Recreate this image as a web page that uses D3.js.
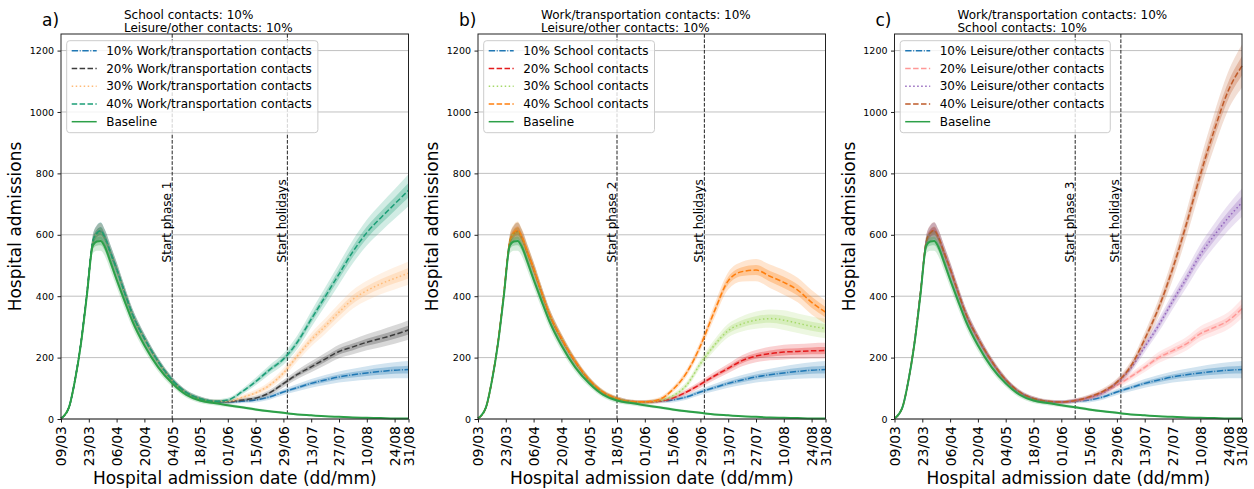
<!DOCTYPE html>
<html>
<head>
<meta charset="utf-8">
<script src="https://cdn.jsdelivr.net/npm/d3@7"></script>
<style>
  body { margin: 0; background: #fff; }
  text { font-family: "DejaVu Sans", sans-serif; fill: #000; }
</style>
</head>
<body>
<svg id="drawing_region"></svg>
<script>
// sample dates (day 0 = 09/03)
const dates = ["2020-03-09","2020-03-13","2020-03-16","2020-03-19","2020-03-22","2020-03-25","2020-03-27","2020-03-29","2020-03-31","2020-04-03","2020-04-06","2020-04-10","2020-04-14","2020-04-20","2020-04-27","2020-05-04","2020-05-11","2020-05-18","2020-05-25","2020-06-01","2020-06-08","2020-06-15","2020-06-22","2020-06-29","2020-07-06","2020-07-13","2020-07-20","2020-07-27","2020-08-03","2020-08-10","2020-08-17","2020-08-24","2020-08-31"];
const tickDates = ["2020-03-09","2020-03-23","2020-04-06","2020-04-20","2020-05-04","2020-05-18","2020-06-01","2020-06-15","2020-06-29","2020-07-13","2020-07-27","2020-08-10","2020-08-24","2020-08-31"];
const yTicks = [0, 200, 400, 600, 800, 1000, 1200];
const yMax = 1254;

// median hospital admissions per scenario
const baseline  = [2,38,124,243,400,565,578,580,562,510,455,385,318,240,168,116,79,60,52,45,38,31,25,20,15,12,9,7,5,4,3,2,2];
const all10     = [2,38,125,245,405,575,603,612,592,540,488,412,340,262,186,126,86,66,57,55,58,62,72,88,102,116,127,137,144,150,155,159,161];
const work20    = [2,38,126,246,406,576,604,611,591,541,489,413,341,263,187,127,87,66,57,56,62,68,85,115,145,170,195,220,235,250,262,275,290];
const work30    = [2,38,125,245,404,574,602,610,590,539,487,411,339,261,185,125,86,66,58,58,70,85,110,150,205,258,302,348,390,418,440,458,475];
const work40    = [2,38,126,246,406,577,605,613,593,541,489,413,341,263,187,127,87,67,58,62,88,122,160,195,250,325,398,472,545,607,655,700,745];
const school20  = [2,38,125,245,405,575,603,611,591,540,488,412,340,262,186,126,86,66,57,55,58,68,88,113,140,165,190,205,213,218,220,222,223];
const school30  = [2,38,125,246,406,576,604,612,592,541,489,413,341,263,187,127,87,66,57,55,60,75,110,180,240,288,310,322,327,322,312,302,295];
const school40  = [2,38,126,247,408,579,607,615,595,543,491,414,342,264,188,128,88,67,57,56,63,95,150,238,350,450,480,485,465,445,420,380,348];
const leisure20 = [2,38,125,245,405,575,603,611,591,540,488,412,340,262,186,126,86,66,57,55,60,68,88,110,138,168,200,222,245,278,298,320,360];
const leisure30 = [2,38,125,246,406,576,604,612,592,541,489,413,341,263,187,127,87,66,57,55,60,70,85,118,165,235,305,383,458,535,598,655,705];
const leisure40 = [2,38,126,247,408,578,606,614,594,542,490,414,342,264,188,128,88,67,58,55,60,72,90,120,172,260,362,488,635,795,940,1068,1150];

// half width of the outer uncertainty band
const baselineBand  = [1,4,8,12,18,26,30,32,30,28,26,24,21,18,14,11,9,8,7,6,5,5,4,4,3,3,2,2,2,2,1,1,1];
const all10Band     = [1,4,8,12,16,22,26,28,26,24,22,20,18,15,12,10,8,7,6,6,7,8,9,10,12,14,16,18,20,22,24,26,28];
const work20Band    = [1,4,8,12,16,22,26,28,26,24,22,20,18,15,12,10,8,7,6,6,7,8,10,12,15,18,20,22,24,26,28,30,32];
const work30Band    = [1,4,8,12,16,22,26,28,26,24,22,20,18,15,12,10,8,7,6,6,8,10,12,15,18,22,25,28,30,32,34,36,38];
const work40Band    = [1,4,8,12,16,22,26,28,26,24,22,20,18,15,12,10,8,7,6,7,9,12,15,18,22,26,30,34,38,42,45,48,52];
const school20Band  = [1,4,8,12,16,22,26,28,26,24,22,20,18,15,12,10,8,7,6,6,7,8,9,11,13,15,18,20,22,24,24,25,25];
const school30Band  = [1,4,8,12,16,22,26,28,26,24,22,20,18,15,12,10,8,7,6,6,7,8,11,14,18,22,25,28,30,32,32,32,32];
const school40Band  = [1,4,8,12,16,22,26,28,26,24,22,20,18,15,12,10,8,7,6,6,7,9,12,16,22,28,32,36,38,40,40,40,38];
const leisure20Band = [1,4,8,12,16,22,26,28,26,24,22,20,18,15,12,10,8,7,6,6,7,8,9,11,13,15,18,20,22,24,26,28,32];
const leisure30Band = [1,4,8,12,16,22,26,28,26,24,22,20,18,15,12,10,8,7,6,6,7,8,9,11,14,18,22,26,30,34,38,42,46];
const leisure40Band = [1,4,8,12,16,22,26,28,26,24,22,20,18,15,12,10,8,7,6,6,7,8,10,12,16,22,28,36,42,50,56,62,70];

const panelLetters = ["a)", "b)", "c)"];
const panelNotes = [
    ["School contacts: 10%", "Leisure/other contacts: 10%"],
    ["Work/transportation contacts: 10%", "Leisure/other contacts: 10%"],
    ["Work/transportation contacts: 10%", "School contacts: 10%"]
];
const panelNames = ["Work/transportation contacts", "School contacts", "Leisure/other contacts"];
const percents = ["10%", "20%", "30%", "40%"];
const phaseLabels = ["Start phase 1", "Start phase 2", "Start phase 3"];
const phaseDates = ["2020-05-04", "2020-05-18", "2020-06-08"];
const holidayDate = "2020-07-01";

const panelValues = [
    [all10, work20, work30, work40],
    [all10, school20, school30, school40],
    [all10, leisure20, leisure30, leisure40]
];
const panelBands = [
    [all10Band, work20Band, work30Band, work40Band],
    [all10Band, school20Band, school30Band, school40Band],
    [all10Band, leisure20Band, leisure30Band, leisure40Band]
];
const panelColors = [
    ["#1f77b4", "#3c3c3c", "#ffbb78", "#1b9e77"],
    ["#1f77b4", "#e41a1c", "#a6d96a", "#ff7f0e"],
    ["#1f77b4", "#ff9896", "#9467bd", "#bf5b2a"]
];
const dashes = ["6.4,1.6,1,1.6", "5.5,2.4", "1.5,2.5", "5.5,2.4"];
const baselineColor = "#2ca048";

const parse = d3.utcParse("%Y-%m-%d");

class Panel {
    constructor(svg, config) {
        this.svg = svg;
        this.config = config;
        this.init();
    }

    init() {
        let self = this;
        const c = self.config;
        self.chart = self.svg.append('g')
            .attr('transform', `translate(${c.left}, ${c.top})`);

        self.xscale = d3.scaleUtc()
            .domain([parse(dates[0]), parse(dates[dates.length - 1])])
            .range([0, c.width]);
        self.yscale = d3.scaleLinear()
            .domain([0, yMax])
            .range([c.height, 0]);

        self.area = d3.area()
            .x(d => self.xscale(d.date))
            .curve(d3.curveMonotoneX);
        self.line = d3.line()
            .x(d => self.xscale(d.date))
            .y(d => self.yscale(d.v))
            .curve(d3.curveMonotoneX);
    }

    render() {
        let self = this;
        const c = self.config;
        const ch = self.chart;

        // horizontal grid
        ch.append('g').selectAll('line')
            .data(yTicks).join('line')
            .attr('x1', 0).attr('x2', c.width)
            .attr('y1', d => self.yscale(d)).attr('y2', d => self.yscale(d))
            .attr('stroke', '#b0b0b0').attr('stroke-width', 0.8);

        // phase / holiday markers
        const marks = [[phaseDates[c.index], phaseLabels[c.index]], [holidayDate, "Start holidays"]];
        marks.forEach(m => {
            const x = self.xscale(parse(m[0]));
            ch.append('line')
                .attr('x1', x).attr('x2', x).attr('y1', 0).attr('y2', c.height)
                .attr('stroke', '#222').attr('stroke-width', 1)
                .attr('stroke-dasharray', '3.7,1.6');
            ch.append('text')
                .attr('transform', `translate(${x - 1.5}, ${self.yscale(510)}) rotate(-90)`)
                .attr('font-size', 12)
                .text(m[1]);
        });

        // scenario series, baseline last
        const series = c.values.map((vals, i) => ({
            values: vals, band: c.bands[i], color: c.colors[i], dash: dashes[i], width: 1.5
        }));
        series.push({ values: baseline, band: baselineBand, color: baselineColor, dash: null, width: 2 });

        series.forEach(s => {
            const pts = dates.map((d, i) => ({ date: parse(d), v: s.values[i], w: s.band[i] }));
            ch.append('path')
                .attr('d', self.area
                    .y0(d => self.yscale(Math.max(0, d.v - d.w)))
                    .y1(d => self.yscale(d.v + d.w))(pts))
                .attr('fill', s.color).attr('fill-opacity', 0.2);
            ch.append('path')
                .attr('d', self.area
                    .y0(d => self.yscale(Math.max(0, d.v - d.w * 0.45)))
                    .y1(d => self.yscale(d.v + d.w * 0.45))(pts))
                .attr('fill', s.color).attr('fill-opacity', 0.3);
            ch.append('path')
                .attr('d', self.line(pts))
                .attr('fill', 'none')
                .attr('stroke', s.color)
                .attr('stroke-width', s.width)
                .attr('stroke-dasharray', s.dash);
        });

        // axes
        const xaxis = d3.axisBottom(self.xscale)
            .tickValues(tickDates.map(parse))
            .tickFormat(d3.utcFormat("%d/%m"))
            .tickSize(3.5).tickPadding(3.5);
        const xg = ch.append('g')
            .attr('transform', `translate(0, ${c.height})`)
            .call(xaxis);
        xg.select('.domain').remove();
        xg.selectAll('.tick line').attr('stroke', '#222');
        xg.selectAll('.tick text')
            .attr('font-size', 14)
            .attr('font-family', '"DejaVu Sans", sans-serif')
            .attr('transform', 'rotate(-90)')
            .attr('text-anchor', 'end')
            .attr('x', -7).attr('y', 0).attr('dy', '0.35em');

        const yaxis = d3.axisLeft(self.yscale)
            .tickValues(yTicks)
            .tickFormat(d3.format('d'))
            .tickSize(3.5).tickPadding(3.5);
        const yg = ch.append('g').call(yaxis);
        yg.select('.domain').remove();
        yg.selectAll('.tick line').attr('stroke', '#222');
        yg.selectAll('.tick text')
            .attr('font-size', 9.5)
            .attr('font-family', '"DejaVu Sans", sans-serif');

        // frame
        ch.append('rect')
            .attr('width', c.width).attr('height', c.height)
            .attr('fill', 'none').attr('stroke', '#222').attr('stroke-width', 1);

        // labels
        ch.append('text')
            .attr('x', -19).attr('y', -8)
            .attr('font-size', 17)
            .text(panelLetters[c.index]);
        panelNotes[c.index].forEach((t, i) => {
            ch.append('text')
                .attr('x', 63).attr('y', -15 + i * 12.5)
                .attr('font-size', 12)
                .text(t);
        });
        ch.append('text')
            .attr('transform', `translate(-40, ${c.height / 2}) rotate(-90)`)
            .attr('text-anchor', 'middle')
            .attr('font-size', 17)
            .text("Hospital admissions");
        ch.append('text')
            .attr('x', c.width / 2).attr('y', c.height + 65)
            .attr('text-anchor', 'middle')
            .attr('font-size', 17)
            .text("Hospital admission date (dd/mm)");

        // legend
        const lg = ch.append('g').attr('transform', 'translate(5.7, 6.7)');
        const box = lg.append('rect')
            .attr('rx', 3).attr('ry', 3)
            .attr('fill', '#fff').attr('fill-opacity', 0.8)
            .attr('stroke', '#cccccc').attr('stroke-width', 1);
        const items = series.map((s, i) => ({
            label: i < 4 ? `${percents[i]} ${panelNames[c.index]}` : "Baseline",
            color: s.color, dash: s.dash
        }));
        let maxw = 0;
        items.forEach((it, i) => {
            const y = 10 + i * 17.75;
            lg.append('line')
                .attr('x1', 5).attr('x2', 30).attr('y1', y).attr('y2', y)
                .attr('stroke', it.color).attr('stroke-width', 1.5)
                .attr('stroke-dasharray', it.dash);
            const t = lg.append('text')
                .attr('x', 39.5).attr('y', y).attr('dy', '0.35em')
                .attr('font-size', 12)
                .text(it.label);
            maxw = Math.max(maxw, t.node().getComputedTextLength());
        });
        box.attr('width', 39.5 + maxw + 6).attr('height', 92);
    }
}

const svg = d3.select('#drawing_region')
    .attr('width', 1254).attr('height', 489);

const lefts = [61, 478, 894.5];
lefts.forEach((left, i) => {
    const p = new Panel(svg, {
        index: i, left: left, top: 34, width: 347.5, height: 385,
        values: panelValues[i], bands: panelBands[i], colors: panelColors[i]
    });
    p.render();
});
</script>
</body>
</html>
